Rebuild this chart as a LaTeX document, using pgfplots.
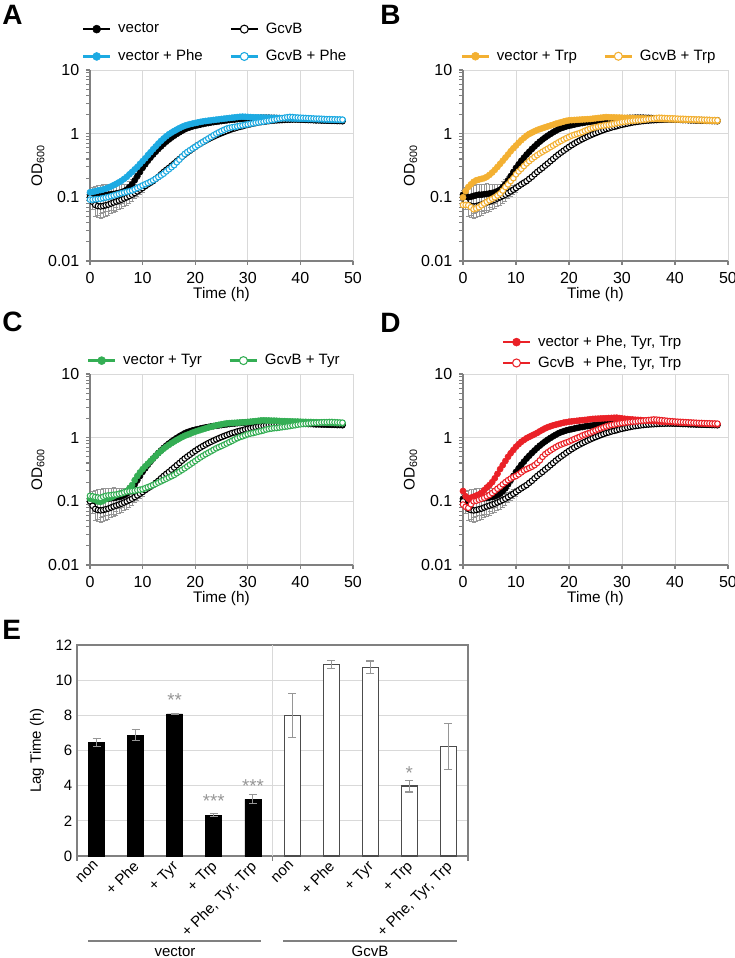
\documentclass[border=0pt]{standalone}
\usepackage{fontspec}
\setmainfont{Liberation Sans}
\usepackage{pgfplots}
\usepackage{pgfplotstable}
\pgfplotsset{compat=1.18}

\definecolor{cBlue}{RGB}{29,170,226}
\definecolor{cOrange}{RGB}{243,176,50}
\definecolor{cGreen}{RGB}{52,174,84}
\definecolor{cRed}{RGB}{234,33,39}
\definecolor{spine}{RGB}{128,128,128}
\definecolor{gridc}{RGB}{217,217,217}
\definecolor{errc}{RGB}{150,150,150}

% growth curves: OD600 every 30 min (mean) and s.d. for the two reference strains
\pgfplotstableread{
t vec vecE gcv gcvE phe pheG trp trpG tyr tyrG all allG
0 0.110 0.02 0.100 0.015 0.120 0.092 0.100 0.076 0.110 0.122 0.145 0.089
0.5 0.105 0.04 0.085 0.020 0.122 0.092 0.125 0.076 0.108 0.120 0.120 0.082
1 0.100 0.05 0.076 0.025 0.125 0.093 0.145 0.075 0.105 0.117 0.110 0.079
1.5 0.102 0.05 0.073 0.025 0.128 0.094 0.160 0.070 0.100 0.115 0.114 0.090
2 0.105 0.05 0.072 0.025 0.130 0.095 0.175 0.065 0.098 0.113 0.118 0.100
2.5 0.108 0.05 0.073 0.025 0.133 0.097 0.185 0.067 0.102 0.118 0.123 0.102
3 0.110 0.05 0.075 0.025 0.137 0.099 0.190 0.070 0.108 0.122 0.128 0.106
3.5 0.110 0.05 0.077 0.025 0.142 0.101 0.195 0.075 0.112 0.124 0.136 0.110
4 0.112 0.05 0.080 0.025 0.148 0.104 0.200 0.080 0.115 0.125 0.150 0.114
4.5 0.113 0.05 0.083 0.025 0.155 0.107 0.210 0.085 0.120 0.127 0.165 0.120
5 0.115 0.045 0.086 0.025 0.163 0.110 0.225 0.090 0.126 0.128 0.180 0.126
5.5 0.117 0.04 0.089 0.025 0.172 0.113 0.245 0.095 0.130 0.131 0.200 0.135
6 0.120 0.04 0.092 0.025 0.182 0.116 0.270 0.100 0.134 0.133 0.230 0.146
6.5 0.125 0.035 0.096 0.025 0.195 0.119 0.300 0.107 0.138 0.138 0.270 0.158
7 0.132 0.03 0.100 0.025 0.210 0.122 0.335 0.115 0.145 0.142 0.320 0.170
7.5 0.145 0.03 0.105 0.025 0.230 0.125 0.375 0.128 0.160 0.144 0.370 0.185
8 0.160 0.03 0.110 0.025 0.250 0.128 0.420 0.145 0.180 0.145 0.430 0.200
8.5 0.185 0.025 0.117 0.020 0.275 0.134 0.470 0.160 0.215 0.147 0.500 0.215
9 0.215 0.025 0.124 0.020 0.300 0.140 0.530 0.180 0.250 0.150 0.570 0.228
9.5 0.250 0.02 0.132 0.020 0.335 0.147 0.590 0.200 0.285 0.152 0.640 0.240
10 0.290 0.02 0.140 0.020 0.370 0.154 0.650 0.230 0.320 0.155 0.720 0.250
10.5 0.330 0.02 0.150 0.010 0.410 0.161 0.720 0.255 0.355 0.161 0.790 0.265
11 0.375 0.02 0.160 0.010 0.460 0.168 0.790 0.280 0.390 0.167 0.860 0.285
11.5 0.420 0.02 0.170 0.010 0.510 0.176 0.860 0.310 0.430 0.173 0.920 0.305
12 0.470 0.02 0.180 0.010 0.570 0.185 0.930 0.340 0.470 0.180 0.980 0.320
12.5 0.520 0.02 0.195 0.010 0.630 0.196 0.990 0.370 0.520 0.188 1.030 0.335
13 0.575 0.02 0.210 0.010 0.700 0.208 1.040 0.400 0.570 0.197 1.080 0.350
13.5 0.630 0.02 0.230 0.010 0.770 0.221 1.090 0.430 0.620 0.206 1.130 0.370
14 0.690 0.02 0.250 0.010 0.840 0.235 1.140 0.460 0.670 0.216 1.190 0.400
14.5 0.750 0.02 0.270 0.010 0.910 0.255 1.180 0.490 0.720 0.226 1.260 0.440
15 0.810 0.02 0.290 0.010 0.980 0.275 1.220 0.520 0.770 0.237 1.330 0.500
15.5 0.870 0.02 0.315 0.010 1.040 0.297 1.260 0.550 0.820 0.248 1.400 0.550
16 0.930 0.02 0.340 0.010 1.100 0.320 1.300 0.580 0.870 0.260 1.460 0.590
16.5 0.990 0.02 0.370 0.010 1.160 0.355 1.340 0.615 0.920 0.276 1.510 0.630
17 1.050 0.02 0.400 0.010 1.220 0.390 1.380 0.650 0.970 0.293 1.560 0.670
17.5 1.110 0.02 0.435 0.010 1.280 0.435 1.430 0.690 1.020 0.311 1.600 0.710
18 1.170 0.02 0.470 0.010 1.330 0.480 1.470 0.730 1.070 0.330 1.640 0.750
18.5 1.220 0.02 0.505 0.010 1.370 0.515 1.510 0.770 1.110 0.353 1.680 0.780
19 1.260 0.02 0.540 0.010 1.410 0.550 1.550 0.810 1.150 0.377 1.720 0.810
19.5 1.300 0.02 0.580 0.010 1.440 0.585 1.590 0.850 1.200 0.403 1.750 0.840
20 1.330 0.02 0.620 0.010 1.470 0.620 1.620 0.890 1.240 0.430 1.780 0.870
20.5 1.360 0.02 0.660 0.010 1.500 0.660 1.630 0.930 1.280 0.460 1.800 0.910
21 1.390 0.02 0.700 0.010 1.530 0.700 1.640 0.960 1.320 0.490 1.820 0.950
21.5 1.420 0.02 0.740 0.010 1.560 0.745 1.650 0.990 1.360 0.520 1.840 0.990
22 1.450 0.02 0.780 0.010 1.580 0.790 1.660 1.020 1.400 0.550 1.860 1.030
22.5 1.470 0.02 0.820 0.010 1.600 0.840 1.670 1.060 1.440 0.580 1.880 1.080
23 1.500 0.02 0.860 0.010 1.620 0.890 1.680 1.110 1.480 0.610 1.900 1.120
23.5 1.520 0.02 0.900 0.010 1.640 0.945 1.690 1.150 1.520 0.645 1.920 1.160
24 1.540 0.02 0.940 0.010 1.660 1.000 1.700 1.200 1.560 0.680 1.950 1.200
24.5 1.560 0.02 0.980 0.010 1.680 1.050 1.720 1.230 1.590 0.710 1.970 1.250
25 1.580 0.02 1.020 0.010 1.700 1.100 1.740 1.260 1.620 0.740 1.980 1.300
25.5 1.600 0.02 1.060 0.010 1.720 1.150 1.760 1.290 1.650 0.775 1.990 1.350
26 1.620 0.02 1.100 0.010 1.740 1.200 1.780 1.320 1.680 0.810 2.000 1.400
26.5 1.640 0.02 1.140 0.010 1.760 1.230 1.800 1.340 1.690 0.850 2.010 1.450
27 1.660 0.02 1.180 0.010 1.780 1.260 1.820 1.360 1.700 0.890 2.020 1.500
27.5 1.670 0.02 1.210 0.010 1.800 1.280 1.810 1.380 1.710 0.935 2.030 1.540
28 1.690 0.02 1.250 0.010 1.820 1.300 1.800 1.400 1.720 0.980 2.040 1.580
28.5 1.700 0.02 1.280 0.010 1.840 1.330 1.800 1.430 1.730 1.020 2.050 1.610
29 1.720 0.02 1.310 0.010 1.850 1.350 1.790 1.460 1.740 1.050 2.060 1.640
29.5 1.730 0.02 1.350 0.010 1.840 1.380 1.790 1.490 1.750 1.090 2.030 1.670
30 1.740 0.02 1.380 0.010 1.830 1.400 1.780 1.520 1.770 1.130 2.000 1.700
30.5 1.750 0.02 1.410 0.010 1.820 1.430 1.770 1.540 1.780 1.160 1.980 1.720
31 1.760 0.02 1.440 0.010 1.810 1.450 1.770 1.560 1.800 1.180 1.960 1.740
31.5 1.770 0.02 1.470 0.010 1.800 1.480 1.760 1.580 1.820 1.210 1.940 1.760
32 1.770 0.02 1.500 0.010 1.800 1.500 1.760 1.600 1.840 1.240 1.930 1.780
32.5 1.780 0.02 1.520 0.010 1.790 1.530 1.750 1.610 1.860 1.270 1.910 1.790
33 1.780 0.02 1.540 0.010 1.790 1.550 1.750 1.620 1.870 1.300 1.900 1.810
33.5 1.780 0.02 1.560 0.010 1.780 1.580 1.740 1.630 1.860 1.340 1.890 1.830
34 1.780 0.02 1.580 0.010 1.780 1.600 1.740 1.650 1.860 1.370 1.870 1.850
34.5 1.770 0.02 1.600 0.010 1.770 1.630 1.730 1.670 1.850 1.390 1.860 1.870
35 1.770 0.02 1.610 0.010 1.770 1.660 1.720 1.690 1.850 1.410 1.850 1.890
35.5 1.760 0.02 1.620 0.010 1.760 1.690 1.720 1.710 1.840 1.420 1.840 1.910
36 1.750 0.02 1.630 0.010 1.760 1.720 1.710 1.730 1.830 1.440 1.830 1.930
36.5 1.740 0.02 1.640 0.010 1.750 1.750 1.710 1.760 1.820 1.460 1.820 1.920
37 1.730 0.02 1.650 0.010 1.750 1.780 1.700 1.780 1.820 1.480 1.800 1.900
37.5 1.720 0.02 1.660 0.010 1.740 1.810 1.700 1.770 1.810 1.500 1.790 1.880
38 1.710 0.02 1.660 0.010 1.740 1.830 1.690 1.760 1.800 1.520 1.780 1.860
38.5 1.700 0.02 1.670 0.010 1.730 1.820 1.690 1.750 1.800 1.550 1.770 1.840
39 1.690 0.02 1.670 0.010 1.730 1.800 1.680 1.740 1.790 1.570 1.760 1.820
39.5 1.680 0.02 1.670 0.010 1.720 1.790 1.680 1.740 1.790 1.600 1.760 1.810
40 1.670 0.02 1.670 0.010 1.720 1.780 1.670 1.730 1.780 1.620 1.750 1.790
40.5 1.660 0.02 1.670 0.010 1.710 1.770 1.670 1.720 1.770 1.640 1.740 1.780
41 1.650 0.02 1.660 0.010 1.710 1.760 1.660 1.710 1.770 1.650 1.730 1.770
41.5 1.640 0.02 1.660 0.010 1.700 1.750 1.660 1.710 1.760 1.670 1.730 1.760
42 1.640 0.02 1.660 0.010 1.700 1.740 1.650 1.700 1.760 1.680 1.720 1.750
42.5 1.630 0.02 1.650 0.010 1.690 1.730 1.650 1.690 1.750 1.700 1.710 1.740
43 1.620 0.02 1.650 0.010 1.690 1.720 1.640 1.690 1.750 1.710 1.700 1.730
43.5 1.620 0.02 1.650 0.010 1.680 1.720 1.640 1.680 1.740 1.720 1.700 1.720
44 1.610 0.02 1.640 0.010 1.680 1.710 1.630 1.670 1.740 1.740 1.690 1.710
44.5 1.610 0.02 1.640 0.010 1.670 1.700 1.620 1.670 1.730 1.750 1.680 1.700
45 1.600 0.02 1.640 0.010 1.670 1.690 1.620 1.660 1.720 1.750 1.670 1.700
45.5 1.600 0.02 1.630 0.010 1.660 1.690 1.610 1.650 1.720 1.760 1.670 1.690
46 1.590 0.02 1.630 0.010 1.660 1.680 1.600 1.650 1.710 1.760 1.660 1.680
46.5 1.590 0.02 1.630 0.010 1.650 1.680 1.600 1.640 1.700 1.750 1.650 1.680
47 1.580 0.02 1.620 0.010 1.650 1.670 1.590 1.630 1.700 1.740 1.640 1.670
47.5 1.580 0.02 1.620 0.010 1.640 1.670 1.590 1.630 1.690 1.730 1.630 1.670
48 1.570 0.02 1.620 0.010 1.640 1.660 1.580 1.620 1.680 1.720 1.620 1.660
}\oddata

% lag times (h), mean and s.d.
\pgfplotstableread{
x y e
0 6.45 0.24
1 6.86 0.31
2 8.08 0.02
3 2.33 0.08
4 3.22 0.26
}\lagvec
\pgfplotstableread{
x y e
5 8.00 1.25
6 10.90 0.22
7 10.73 0.36
8 3.98 0.34
9 6.22 1.30
}\laggcv

\pgfplotsset{/pgf/number format/assume math mode=true}
\pgfplotsset{
  filledS/.style={draw=#1, line width=1.5pt, mark=*, mark size=2.3pt,
    mark options={draw=#1, fill=#1, line width=0.4pt}},
  openS/.style={draw=#1, line width=1.5pt, mark=*, mark size=2.1pt,
    mark options={draw=#1, fill=white, line width=0.8pt}},
}

\newcommand{\panel}[2]{\node[anchor=north west, inner sep=0pt, font=\fontsize{21}{24}\selectfont\bfseries] at (#1) {#2};}

\begin{document}
\begin{tikzpicture}
\useasboundingbox (0pt,0pt) rectangle (551.25pt,718.5pt);

\begin{scope}
% shared settings of the four growth-curve panels
\pgfplotsset{
  scale only axis, width=197.25pt, height=143.25pt, clip=false,
  xmin=0, xmax=50, ymin=0.01, ymax=10,
  xtick={0,10,20,30,40,50}, ytick={0.01,0.1,1,10}, yticklabels={0.01,0.1,1,10},
  minor ytick={},
  axis lines=left, axis line style={-, draw=spine, line width=0.8pt},
  grid=major, major grid style={draw=gridc, line width=0.6pt},
  tick align=outside, major tick length=3pt, tick style={draw=spine, line width=0.8pt},
  tick label style={font=\fontsize{12}{14}\selectfont},
  xticklabel style={yshift=-2pt},
  yticklabel style={xshift=-1.5pt},
  xlabel={Time (h)}, ylabel={OD\textsubscript{600}},
  xlabel style={at={(axis description cs:0.5,-0.175)}, anchor=center, font=\fontsize{11.5}{14}\selectfont},
  ylabel style={at={(axis description cs:-0.198,0.5)}, anchor=center, font=\fontsize{11.5}{14}\selectfont},
  legend cell align=left,
  legend style={draw=none, fill=none, inner sep=0pt,
    font=\fontsize{11.25}{13}\selectfont,
    /tikz/every odd column/.append style={column sep=3pt}},
  legend image code/.code={\draw[mark repeat=2,mark phase=2,#1,line width=2pt,mark size=3pt]
      plot coordinates {(0pt,0pt) (10.125pt,0pt) (20.25pt,0pt)};},
}

% ---- A: Phe ----
\begin{axis}[ymode=log, anchor=south west, at={(67.5pt,522.75pt)}, legend columns=2,
  legend style={anchor=north west, at={(axis description cs:-0.032,1.262)}, row sep=7pt,
    /tikz/every even column/.append style={column sep=18pt}}]
\addplot[filledS=black, error bars/.cd, y dir=both, y explicit,
  error bar style={draw=errc, line width=0.6pt},
  error mark options={draw=errc, mark size=1.5pt, line width=0.6pt, rotate=90}]
  table[x=t, y=vec, y error=vecE] {\oddata};
\addlegendentry{vector}
\addplot[openS=black, error bars/.cd, y dir=both, y explicit,
  error bar style={draw=errc, line width=0.6pt},
  error mark options={draw=errc, mark size=1.5pt, line width=0.6pt, rotate=90}]
  table[x=t, y=gcv, y error=gcvE] {\oddata};
\addlegendentry{GcvB}
\addplot[filledS=cBlue] table[x=t, y=phe] {\oddata};
\addlegendentry{vector + Phe}
\addplot[openS=cBlue] table[x=t, y=pheG] {\oddata};
\addlegendentry{GcvB + Phe}
\end{axis}

% ---- B: Trp ----
\begin{axis}[ymode=log, anchor=south west, width=198.75pt, at={(347.25pt,522.75pt)}, legend columns=2,
  legend style={anchor=north west, at={(axis description cs:-0.01,1.12)},
    /tikz/every even column/.append style={column sep=18pt}}]
\addplot[filledS=black, forget plot, error bars/.cd, y dir=both, y explicit,
  error bar style={draw=errc, line width=0.6pt},
  error mark options={draw=errc, mark size=1.5pt, line width=0.6pt, rotate=90}]
  table[x=t, y=vec, y error=vecE] {\oddata};
\addplot[openS=black, forget plot, error bars/.cd, y dir=both, y explicit,
  error bar style={draw=errc, line width=0.6pt},
  error mark options={draw=errc, mark size=1.5pt, line width=0.6pt, rotate=90}]
  table[x=t, y=gcv, y error=gcvE] {\oddata};
\addplot[filledS=cOrange] table[x=t, y=trp] {\oddata};
\addlegendentry{vector + Trp}
\addplot[openS=cOrange] table[x=t, y=trpG] {\oddata};
\addlegendentry{GcvB + Trp}
\end{axis}

% ---- C: Tyr ----
\begin{axis}[ymode=log, anchor=south west, at={(67.5pt,294.75pt)}, legend columns=2,
  legend style={anchor=north west, at={(axis description cs:-0.013,1.118)},
    /tikz/every even column/.append style={column sep=18pt}}]
\addplot[filledS=black, forget plot, error bars/.cd, y dir=both, y explicit,
  error bar style={draw=errc, line width=0.6pt},
  error mark options={draw=errc, mark size=1.5pt, line width=0.6pt, rotate=90}]
  table[x=t, y=vec, y error=vecE] {\oddata};
\addplot[openS=black, forget plot, error bars/.cd, y dir=both, y explicit,
  error bar style={draw=errc, line width=0.6pt},
  error mark options={draw=errc, mark size=1.5pt, line width=0.6pt, rotate=90}]
  table[x=t, y=gcv, y error=gcvE] {\oddata};
\addplot[filledS=cGreen] table[x=t, y=tyr] {\oddata};
\addlegendentry{vector + Tyr}
\addplot[openS=cGreen] table[x=t, y=tyrG] {\oddata};
\addlegendentry{GcvB + Tyr}
\end{axis}

% ---- D: Phe, Tyr, Trp ----
\begin{axis}[ymode=log, anchor=south west, width=198.75pt, at={(347.25pt,294.75pt)}, legend columns=1,
  legend style={anchor=north west, at={(axis description cs:0.145,1.216)}, row sep=2pt}]
\addplot[filledS=black, forget plot, error bars/.cd, y dir=both, y explicit,
  error bar style={draw=errc, line width=0.6pt},
  error mark options={draw=errc, mark size=1.5pt, line width=0.6pt, rotate=90}]
  table[x=t, y=vec, y error=vecE] {\oddata};
\addplot[openS=black, forget plot, error bars/.cd, y dir=both, y explicit,
  error bar style={draw=errc, line width=0.6pt},
  error mark options={draw=errc, mark size=1.5pt, line width=0.6pt, rotate=90}]
  table[x=t, y=gcv, y error=gcvE] {\oddata};
\addplot[filledS=cRed] table[x=t, y=all] {\oddata};
\addlegendentry{vector + Phe, Tyr, Trp}
\addplot[openS=cRed] table[x=t, y=allG] {\oddata};
\addlegendentry{GcvB~ + Phe, Tyr, Trp}
\end{axis}
\end{scope}

% ---- E: lag time ----
\begin{axis}[scale only axis, width=293.25pt, height=158.25pt, anchor=south west,
  at={(57.75pt,76.5pt)}, clip=false,
  xmin=-0.5, xmax=9.5, ymin=0, ymax=12, ytick={0,2,4,6,8,10,12},
  xtick={0,1,2,3,4,5,6,7,8,9},
  xticklabels={non,+ Phe,+ Tyr,+ Trp,{+ Phe, Tyr, Trp},non,+ Phe,+ Tyr,+ Trp,{+ Phe, Tyr, Trp}},
  xticklabel style={xshift=-4pt, rotate=45, anchor=north east, inner sep=1pt, yshift=-2pt},
  tick style={draw=none},
  ymajorgrids, major grid style={draw=gridc, line width=0.6pt},
  axis line style={draw=spine, line width=0.8pt},
  tick label style={font=\fontsize{11.25}{13}\selectfont},
  ylabel={Lag Time (h)},
  ylabel style={at={(axis description cs:-0.102,0.5)}, anchor=center, font=\fontsize{11.25}{13}\selectfont},
]
\draw[gridc, line width=0.8pt] (axis cs:4.5,0) -- (axis cs:4.5,12);
\draw[spine, line width=0.8pt] (axis cs:-0.5,0) -- ++(0pt,-3.5pt);
\draw[spine, line width=0.8pt] (axis cs:4.5,0) -- ++(0pt,-3.5pt);
\draw[spine, line width=0.8pt] (axis cs:9.5,0) -- ++(0pt,-3.5pt);
\addplot[ybar, bar width=12pt, bar shift=0pt, fill=black, draw=black, line width=0.6pt,
  error bars/.cd, y dir=both, y explicit, error mark=-,
  error bar style={draw=errc, line width=0.8pt},
  error mark options={draw=errc, mark size=3pt, line width=0.8pt, rotate=90}]
  table[x=x, y=y, y error=e] {\lagvec};
\addplot[ybar, bar width=12pt, bar shift=0pt, fill=white, draw=black!70, line width=0.8pt,
  error bars/.cd, y dir=both, y explicit, error mark=-,
  error bar style={draw=errc, line width=0.8pt},
  error mark options={draw=errc, mark size=3pt, line width=0.8pt, rotate=90}]
  table[x=x, y=y, y error=e] {\laggcv};
\node[text=errc, font=\fontsize{14}{14}\selectfont] at (axis cs:2,8.85) {**};
\node[text=errc, font=\fontsize{14}{14}\selectfont] at (axis cs:3,3.1) {***};
\node[text=errc, font=\fontsize{14}{14}\selectfont] at (axis cs:4,4.0) {***};
\node[text=errc, font=\fontsize{14}{14}\selectfont] at (axis cs:8,4.7) {*};
\end{axis}

% group brackets under panel E
\draw[spine, line width=1.5pt] (66pt,12.75pt) -- (195.75pt,12.75pt);
\draw[spine, line width=1.5pt] (212.25pt,12.75pt) -- (342.75pt,12.75pt);
\node[anchor=base, inner sep=0pt, font=\fontsize{11.25}{13}\selectfont] at (131.25pt,1pt) {vector};
\node[anchor=base, inner sep=0pt, font=\fontsize{11.25}{13}\selectfont] at (277.5pt,1pt) {GcvB};

% panel letters
\panel{1.5pt,714.75pt}{A}
\panel{285pt,714.75pt}{B}
\panel{1.5pt,484.5pt}{C}
\panel{285pt,483.75pt}{D}
\panel{1.5pt,253.5pt}{E}
\end{tikzpicture}
\end{document}
